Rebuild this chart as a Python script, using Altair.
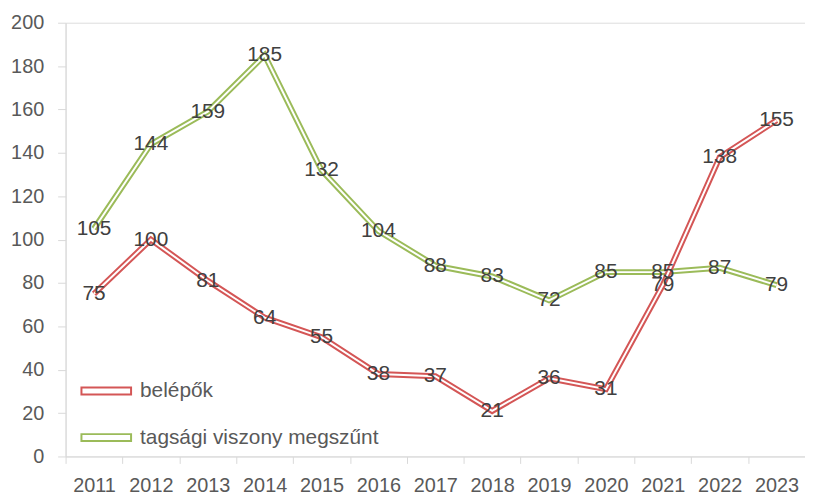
import altair as alt
import pandas as pd

years = ["2011", "2012", "2013", "2014", "2015", "2016", "2017", "2018", "2019", "2020", "2021", "2022", "2023"]
belepok = [75, 100, 81, 64, 55, 38, 37, 21, 36, 31, 79, 138, 155]
megszunt = [105, 144, 159, 185, 132, 104, 88, 83, 72, 85, 85, 87, 79]
series_names = ["belépők", "tagsági viszony megszűnt"]
series_colors = ["#d45656", "#9bbb59"]

rows = []
for name, vals in zip(series_names, [belepok, megszunt]):
    for y, v in zip(years, vals):
        rows.append({"year": y, "value": v, "series": name})
df = pd.DataFrame(rows)

FONT = "Liberation Sans"
FS = 20
x = alt.X("year:N", sort=years, title=None,
          scale=alt.Scale(type="band", paddingInner=0, paddingOuter=0),
          axis=alt.Axis(labelAngle=0, tickBand="extent", domainColor="#d9d9d9", tickColor="#d9d9d9",
                        tickSize=7, labelPadding=12, labelColor="#595959", labelFontSize=FS, labelFont=FONT,
                        grid=False))
y = alt.Y("value:Q", title=None,
          scale=alt.Scale(domain=[0, 200], nice=False),
          axis=alt.Axis(values=list(range(0, 201, 20)), domainColor="#d9d9d9", tickColor="#d9d9d9",
                        tickSize=8, labelPadding=14, labelColor="#595959", labelFontSize=FS, labelFont=FONT,
                        grid=False))

color = alt.Color("series:N", sort=series_names,
                  scale=alt.Scale(domain=series_names, range=series_colors),
                  legend=alt.Legend(title=None, orient="none", legendX=15, legendY=345,
                                    symbolType="M-1,-0.14H1V0.14H-1Z", symbolSize=2500,
                                    symbolFillColor="white", symbolStrokeWidth=2,
                                    labelFontSize=21, labelFont=FONT, labelColor="#595959",
                                    labelLimit=400, rowPadding=11, labelOffset=8))

layers = []
for name in ["tagsági viszony megszűnt", "belépők"]:
    sub = alt.Chart(df).transform_filter(alt.datum.series == name)
    layers.append(sub.mark_line(strokeWidth=6).encode(x=x, y=y, color=color))
    layers.append(sub.mark_line(strokeWidth=2, color="white").encode(x=x, y=y))

labels = alt.Chart(df).mark_text(fontSize=21, font=FONT, color="#404040", align="center", baseline="middle").encode(
    x=x, y=y, text="value:Q")

chart = alt.layer(*layers, labels).properties(
    width=745, height=437,
    autosize=alt.AutoSizeParams(type="none"),
    padding={"left": 58, "top": 13, "right": 0, "bottom": 38},
).configure_view(stroke=None).configure(background="white")

chart.save("out.html", embed_options={"renderer": "svg", "actions": False})
